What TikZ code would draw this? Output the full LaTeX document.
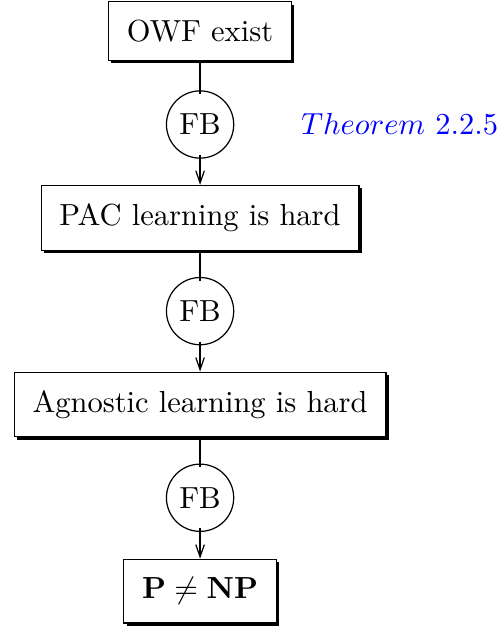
\documentclass[tikz,border=0pt]{standalone}
\usetikzlibrary{shadows,arrows.meta}
\tikzset{
  boite/.style={draw, fill=white, inner sep=6pt,
    drop shadow={shadow xshift=0.9pt, shadow yshift=-0.9pt, opacity=1, fill=black}},
  rond/.style={draw, circle, inner sep=2.5pt}
}
\begin{document}
\begin{tikzpicture}[>={Straight Barb[length=4pt,width=2.8pt]}]
  % Cadre de l'image
  \useasboundingbox (-2.306,-6.879) rectangle (3.459,0.359);
  % Enonces
  \node[boite] (owf) at (0,0) {OWF exist};
  \node[boite] (pac) at (0,-2.151) {PAC learning is hard};
  \node[boite] (agn) at (0,-4.303) {Agnostic learning is hard};
  \node[boite] (pnp) at (0,-6.454) {$\mathbf{P}\neq\mathbf{NP}$};
  % Reductions
  \node[rond] (fb1) at (0,-1.076) {FB};
  \node[rond] (fb2) at (0,-3.227) {FB};
  \node[rond] (fb3) at (0,-5.378) {FB};
  % Reference
  \node[blue] (thm) at (2.3,-1.076) {$Theorem$ 2.2.5};
  % Fleches
  \draw[shorten >=-1.2pt] (owf) -- (fb1);
  \draw[->, shorten <=-1.2pt] (fb1) -- (pac);
  \draw[shorten >=-1.2pt] (pac) -- (fb2);
  \draw[->, shorten <=-1.2pt] (fb2) -- (agn);
  \draw[shorten >=-1.2pt] (agn) -- (fb3);
  \draw[->, shorten <=-1.2pt] (fb3) -- (pnp);
\end{tikzpicture}
\end{document}
